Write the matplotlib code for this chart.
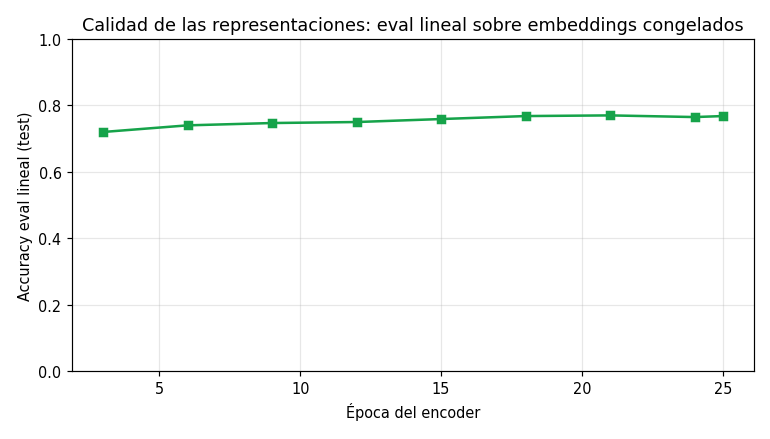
import matplotlib
matplotlib.use("Agg")
from matplotlib import pyplot as plt

# datos
epocas = [3, 6, 9, 12, 15, 18, 21, 24, 25]
accuracy = [0.720, 0.740, 0.747, 0.750, 0.759, 0.768, 0.770, 0.765, 0.768]

fig, ax = plt.subplots(figsize=(770 / 107, 440 / 107), dpi=107)
ax.plot(epocas, accuracy, marker="s", markersize=5.5, linewidth=1.7, color="#16a34a")
ax.set_ylim(0, 1.0)
ax.set_xlabel("Época del encoder", fontsize=9.8)
ax.set_ylabel("Accuracy eval lineal (test)", fontsize=9.8)
ax.set_title("Calidad de las representaciones: eval lineal sobre embeddings congelados", fontsize=11.9)
ax.tick_params(labelsize=9.8)
ax.grid(True, alpha=0.3)
fig.subplots_adjust(left=0.0935, right=0.979, top=0.909, bottom=0.1545)
fig.savefig("out.png")
